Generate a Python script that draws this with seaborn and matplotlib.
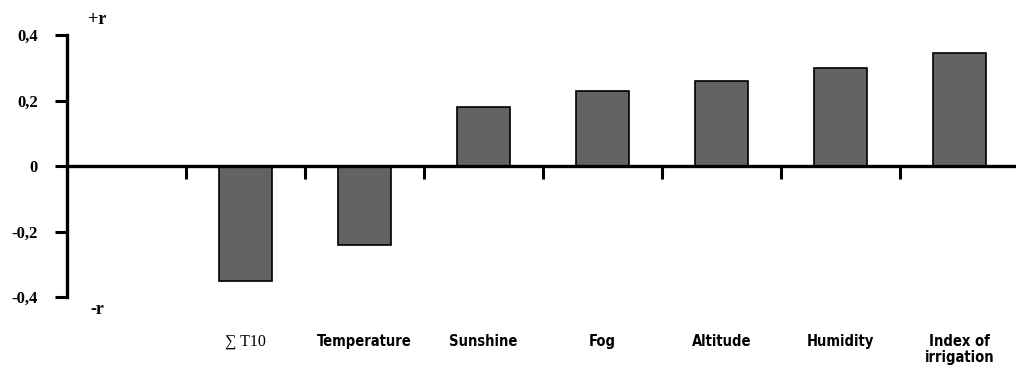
import matplotlib
matplotlib.use("Agg")
import matplotlib.pyplot as plt
import seaborn as sns
import pandas as pd

# correlation coefficients
categories = ["", "\u2211 T10", "Temperature", "Sunshine", "Fog",
              "Altitude", "Humidity", "Index of\nirrigation"]
values = [0.0, -0.35, -0.24, 0.18, 0.23, 0.26, 0.30, 0.345]
y_ticks = [-0.4, -0.2, 0.0, 0.2, 0.4]
y_labels = ["-0,4", "-0,2", "0", "0,2", "0,4"]

df = pd.DataFrame({"factor": categories, "r": values})

sns.set_style("ticks")
plt.rcParams["font.family"] = ["DejaVu Sans"]
plt.rcParams["text.color"] = "black"
plt.rcParams["xtick.color"] = "black"
plt.rcParams["ytick.color"] = "black"
plt.rcParams["axes.edgecolor"] = "black"

fig = plt.figure(figsize=(10.16, 3.85), dpi=100)
ax = fig.add_axes([67 / 1016, 88 / 385, 949 / 1016, 262 / 385])

sns.barplot(data=df, x="factor", y="r", color="#636363", saturation=1,
            width=0.44, edgecolor="black", linewidth=1.2, ax=ax)

ax.set_xlim(-0.5, 7.475)
ax.set_ylim(-0.4, 0.4)
ax.set_xlabel("")
ax.set_ylabel("")

for s in ["top", "right"]:
    ax.spines[s].set_visible(False)
ax.spines["left"].set_linewidth(2.4)
ax.spines["bottom"].set_position(("data", 0))
ax.spines["bottom"].set_linewidth(2.4)
ax.spines["bottom"].set_zorder(5)

ax.set_yticks(y_ticks)
ax.set_yticklabels(y_labels, family="Liberation Serif", fontweight="bold",
                   fontsize=12, color="black")
ax.tick_params(axis="y", direction="out", length=9, width=2.2, pad=12)

# category labels under the chart, boundary ticks on the zero line
ax.set_xticks(range(len(categories)))
ax.set_xticklabels(categories, fontweight="bold", fontsize=10.5, fontstretch="condensed",
                   linespacing=1.05, color="black")
ax.tick_params(axis="x", which="major", length=0, pad=121)
ax.set_xticks([i + 0.5 for i in range(len(categories) - 1)], minor=True)
ax.tick_params(axis="x", which="minor", direction="out", length=9, width=2.2)

for lab in ax.get_xticklabels():
    if lab.get_text().startswith("\u2211"):
        lab.set_family(["Liberation Serif", "DejaVu Serif"])
        lab.set_fontweight("normal")
        lab.set_fontstretch("normal")
        lab.set_fontsize(11.5)

fig.text(97 / 1016, 1 - 19 / 385, "+r", family="Liberation Serif", fontweight="bold",
         fontsize=13, ha="center", va="center")
fig.text(97 / 1016, 1 - 309 / 385, "-r", family="Liberation Serif", fontweight="bold",
         fontsize=13, ha="center", va="center")

fig.savefig("out.png", dpi=100)
